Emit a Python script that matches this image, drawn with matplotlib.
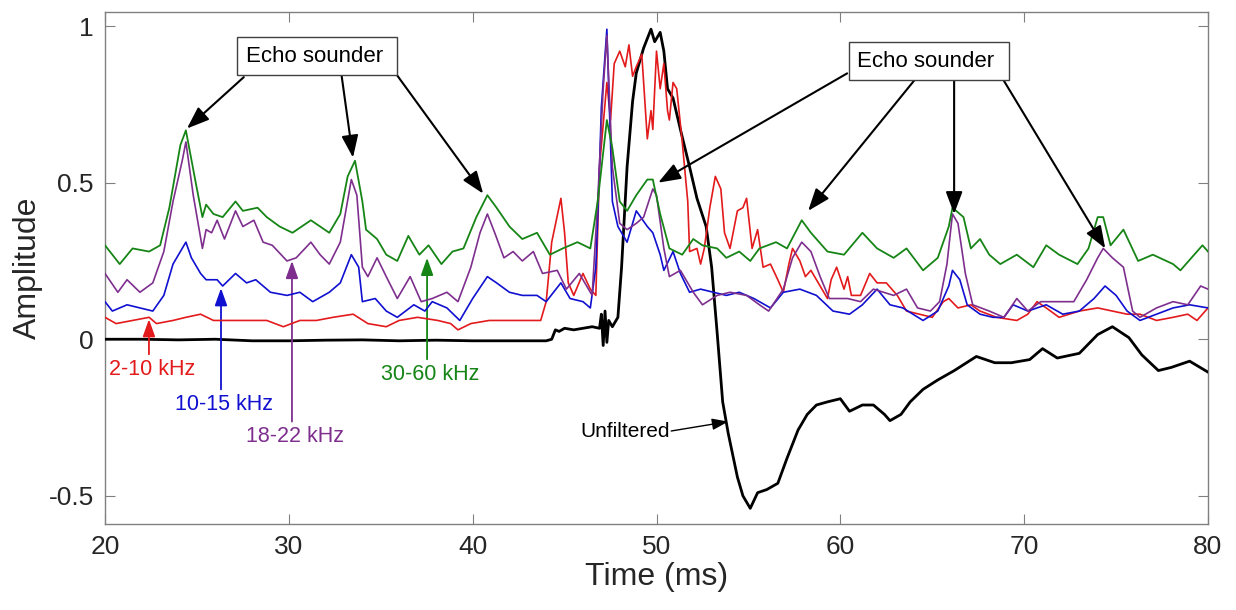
import matplotlib
matplotlib.use("Agg")
import matplotlib.pyplot as plt
import numpy as np

plt.rcParams['font.family'] = ['Liberation Sans', 'DejaVu Sans']

# ---- data (time in ms, normalised amplitude) ----
t_unf = [20, 22, 24, 26, 28, 30, 32, 34, 36, 38, 40, 42, 44, 44.3, 44.5, 44.7, 45.0, 45.5, 46.0,
         46.5, 46.9, 47.0, 47.1, 47.2, 47.3, 47.4, 47.6, 47.9, 48.1, 48.4, 48.7, 48.9, 49.3, 49.7,
         49.9, 50.2, 50.4, 50.6, 50.9, 51.3, 51.8, 52.2, 52.7, 53.0, 53.3, 53.6, 53.9, 54.4, 54.7,
         55.1, 55.5, 56.0, 56.6, 57.1, 57.7, 58.2, 58.7, 59.3, 60.0, 60.5, 61.2, 61.8, 62.4, 62.7,
         63.3, 63.8, 64.5, 65.3, 66.2, 67.4, 68.4, 69.3, 70.3, 71.0, 71.8, 73.0, 74.0, 74.8, 75.7,
         76.4, 77.3, 78.0, 79.0, 80.0]
unfiltered = [0.0, 0.0, -0.002, 0.0, -0.005, -0.005, -0.003, -0.002, -0.005, -0.003, -0.005, -0.005,
              -0.005, 0.0, 0.03, 0.025, 0.035, 0.03, 0.035, 0.04, 0.035, 0.08, -0.02, 0.09, -0.01,
              0.06, 0.04, 0.07, 0.23, 0.55, 0.76, 0.85, 0.93, 0.99, 0.95, 0.98, 0.92, 0.80, 0.77,
              0.67, 0.55, 0.45, 0.36, 0.23, 0.02, -0.20, -0.30, -0.44, -0.50, -0.54, -0.49, -0.48,
              -0.46, -0.38, -0.29, -0.24, -0.21, -0.20, -0.19, -0.23, -0.21, -0.21, -0.24, -0.26,
              -0.24, -0.20, -0.16, -0.13, -0.10, -0.055, -0.075, -0.075, -0.065, -0.03, -0.06,
              -0.045, 0.015, 0.04, 0.005, -0.05, -0.10, -0.09, -0.07, -0.105]

t_red = [20.0, 20.6, 21.5, 22.4, 22.8, 23.7, 24.4, 25.2, 25.9, 27.0, 27.9, 28.8, 29.7, 30.6, 31.5,
         32.4, 33.5, 34.3, 35.3, 36.0, 37.0, 38.1, 38.8, 39.2, 39.9, 40.9, 42.2, 43.0, 43.7, 44.0,
         44.3, 44.8, 45.0, 45.2, 45.5, 46.0, 46.4, 46.7, 46.9, 47.3, 47.5, 47.7, 48.0, 48.3, 48.5,
         48.7, 48.9, 49.2, 49.5, 49.7, 49.8, 50.0, 50.2, 50.4, 50.6, 50.7, 50.9, 51.1, 51.4, 51.7,
         51.8, 52.2, 52.4, 52.6, 52.9, 53.2, 53.5, 53.7, 54.0, 54.4, 54.7, 54.9, 55.2, 55.5, 55.8,
         56.2, 56.6, 56.9, 57.2, 57.4, 57.8, 58.1, 58.4, 58.7, 59.3, 59.5, 59.8, 60.2, 60.4, 60.6,
         61.1, 61.6, 62.0, 62.5, 63.1, 63.6, 64.3, 65.0, 65.6, 65.9, 66.4, 67.1, 67.6, 68.5, 69.6,
         70.2, 70.7, 71.2, 71.9, 73.0, 74.0, 74.8, 75.6, 76.3, 77.2, 78.1, 78.9, 79.4, 80.0]
band_2_10 = [0.07, 0.05, 0.06, 0.07, 0.05, 0.06, 0.07, 0.08, 0.06, 0.06, 0.06, 0.06, 0.04, 0.06, 0.06,
             0.07, 0.08, 0.05, 0.04, 0.06, 0.07, 0.06, 0.05, 0.03, 0.05, 0.06, 0.06, 0.06, 0.06, 0.12,
             0.31, 0.45, 0.34, 0.18, 0.14, 0.21, 0.16, 0.14, 0.55, 0.82, 0.70, 0.88, 0.92, 0.87, 0.94,
             0.84, 0.87, 0.91, 0.64, 0.73, 0.67, 0.92, 0.80, 0.88, 0.73, 0.70, 0.82, 0.80, 0.63, 0.44,
             0.28, 0.29, 0.24, 0.29, 0.42, 0.52, 0.48, 0.34, 0.29, 0.41, 0.42, 0.45, 0.29, 0.35, 0.23,
             0.24, 0.19, 0.15, 0.24, 0.29, 0.25, 0.20, 0.22, 0.19, 0.13, 0.19, 0.23, 0.16, 0.20, 0.14,
             0.14, 0.21, 0.18, 0.18, 0.14, 0.09, 0.08, 0.07, 0.12, 0.13, 0.10, 0.11, 0.09, 0.07, 0.06,
             0.08, 0.12, 0.10, 0.07, 0.09, 0.10, 0.09, 0.08, 0.08, 0.06, 0.07, 0.08, 0.06, 0.10]

t_blue = [20.0, 20.4, 21.2, 21.9, 22.6, 23.2, 23.7, 24.4, 24.7, 25.2, 25.5, 26.1, 26.4, 27.1, 27.7,
          28.2, 29.0, 29.9, 30.6, 31.3, 32.2, 32.8, 33.4, 33.8, 34.0, 34.7, 35.3, 35.9, 36.8, 37.4,
          37.8, 38.6, 39.3, 40.0, 40.8, 41.3, 42.0, 42.7, 43.5, 44.0, 44.8, 45.3, 46.0, 46.4, 46.7,
          46.9, 47.0, 47.3, 47.6, 47.9, 48.1, 48.4, 48.9, 49.5, 49.8, 50.2, 50.4, 50.9, 51.3, 51.8,
          52.4, 53.1, 53.8, 54.5, 55.3, 56.2, 56.9, 57.8, 58.7, 59.6, 60.5, 61.2, 62.0, 62.7, 63.4,
          64.5, 65.3, 65.9, 66.1, 66.5, 66.9, 67.6, 68.3, 68.9, 69.4, 70.2, 71.2, 72.1, 73.0, 73.8,
          74.4, 75.0, 75.6, 76.3, 77.2, 78.1, 79.0, 80.0]
band_10_15 = [0.12, 0.09, 0.11, 0.10, 0.09, 0.14, 0.24, 0.31, 0.26, 0.21, 0.19, 0.19, 0.17, 0.21, 0.18,
              0.19, 0.15, 0.14, 0.15, 0.12, 0.15, 0.18, 0.27, 0.23, 0.12, 0.13, 0.09, 0.07, 0.11, 0.09,
              0.12, 0.10, 0.06, 0.13, 0.20, 0.18, 0.15, 0.14, 0.14, 0.12, 0.18, 0.13, 0.12, 0.10, 0.23,
              0.55, 0.74, 0.99, 0.44, 0.36, 0.34, 0.31, 0.41, 0.36, 0.34, 0.27, 0.22, 0.28, 0.21, 0.15,
              0.16, 0.15, 0.14, 0.15, 0.13, 0.10, 0.15, 0.16, 0.14, 0.09, 0.08, 0.11, 0.16, 0.11, 0.10,
              0.06, 0.09, 0.17, 0.22, 0.19, 0.11, 0.08, 0.07, 0.07, 0.11, 0.09, 0.11, 0.08, 0.09, 0.13,
              0.17, 0.14, 0.09, 0.06, 0.08, 0.10, 0.11, 0.10]

t_purple = [20.0, 20.7, 21.2, 21.9, 22.6, 23.2, 23.7, 24.2, 24.4, 24.8, 25.3, 25.5, 25.8, 26.1, 26.5,
            27.1, 27.5, 28.1, 28.6, 29.1, 29.9, 30.4, 31.2, 31.7, 32.2, 32.8, 33.1, 33.4, 33.7, 34.0,
            34.3, 34.8, 35.3, 35.9, 36.6, 37.2, 37.8, 38.6, 39.2, 39.9, 40.4, 40.8, 41.2, 41.7, 42.2,
            42.7, 43.3, 43.8, 44.6, 45.1, 45.8, 46.5, 46.8, 47.1, 47.3, 47.6, 48.0, 48.4, 48.9, 49.3,
            49.8, 50.0, 50.4, 50.7, 51.3, 52.0, 52.5, 53.3, 54.0, 54.9, 55.6, 56.1, 56.9, 57.4, 57.9,
            58.4, 58.9, 59.4, 60.4, 61.1, 61.8, 62.9, 63.6, 64.2, 64.9, 65.4, 65.8, 66.1, 66.4, 66.8,
            67.2, 68.1, 68.9, 69.6, 70.2, 70.9, 71.8, 72.7, 73.4, 74.0, 74.3, 74.8, 75.4, 75.9, 76.3,
            77.2, 78.1, 78.9, 79.6, 80.0]
band_18_22 = [0.21, 0.15, 0.19, 0.15, 0.18, 0.28, 0.44, 0.57, 0.63, 0.46, 0.29, 0.35, 0.34, 0.38, 0.32,
              0.41, 0.36, 0.38, 0.31, 0.30, 0.25, 0.26, 0.31, 0.27, 0.24, 0.31, 0.41, 0.51, 0.46, 0.23,
              0.20, 0.26, 0.20, 0.13, 0.20, 0.12, 0.13, 0.15, 0.12, 0.23, 0.34, 0.40, 0.34, 0.26, 0.28,
              0.25, 0.28, 0.21, 0.22, 0.16, 0.21, 0.14, 0.44, 0.80, 0.97, 0.55, 0.37, 0.35, 0.37, 0.39,
              0.48, 0.46, 0.29, 0.20, 0.22, 0.15, 0.11, 0.14, 0.15, 0.14, 0.11, 0.09, 0.16, 0.26, 0.31,
              0.28, 0.20, 0.13, 0.13, 0.12, 0.16, 0.14, 0.16, 0.10, 0.09, 0.12, 0.24, 0.40, 0.37, 0.21,
              0.11, 0.09, 0.07, 0.13, 0.09, 0.12, 0.12, 0.12, 0.19, 0.26, 0.29, 0.26, 0.23, 0.09, 0.07,
              0.10, 0.12, 0.11, 0.17, 0.16]

t_green = [20.0, 20.8, 21.5, 22.4, 23.0, 23.5, 24.1, 24.4, 25.0, 25.3, 25.5, 25.9, 26.4, 27.1, 27.5,
           28.3, 28.8, 29.5, 30.2, 31.2, 31.7, 32.2, 32.8, 33.2, 33.6, 34.0, 34.2, 34.8, 35.3, 35.9,
           36.5, 37.1, 37.6, 38.3, 38.9, 39.5, 40.2, 40.8, 41.3, 42.0, 42.7, 43.5, 44.2, 44.9, 45.7,
           46.4, 46.8, 47.3, 47.6, 48.0, 48.4, 48.9, 49.5, 49.8, 50.2, 50.7, 51.4, 52.0, 52.5, 53.3,
           53.8, 54.5, 55.1, 55.6, 56.5, 57.1, 57.9, 58.4, 59.3, 60.2, 61.2, 62.0, 62.9, 63.6, 64.5,
           65.3, 65.9, 66.1, 66.7, 67.1, 67.6, 68.1, 68.7, 69.6, 70.5, 71.2, 71.9, 72.9, 73.5, 74.0,
           74.3, 74.7, 75.4, 76.2, 77.0, 78.1, 78.5, 79.7, 80.0]
band_30_60 = [0.30, 0.24, 0.29, 0.28, 0.30, 0.42, 0.62, 0.667, 0.48, 0.39, 0.43, 0.40, 0.39, 0.44, 0.41,
              0.42, 0.39, 0.36, 0.34, 0.38, 0.36, 0.34, 0.40, 0.52, 0.57, 0.44, 0.35, 0.32, 0.27, 0.25,
              0.33, 0.27, 0.30, 0.24, 0.28, 0.29, 0.39, 0.46, 0.42, 0.36, 0.32, 0.34, 0.27, 0.29, 0.31,
              0.29, 0.44, 0.70, 0.61, 0.44, 0.41, 0.46, 0.51, 0.51, 0.40, 0.29, 0.27, 0.32, 0.30, 0.29,
              0.26, 0.28, 0.25, 0.29, 0.31, 0.29, 0.38, 0.34, 0.28, 0.27, 0.34, 0.29, 0.26, 0.29, 0.22,
              0.26, 0.36, 0.42, 0.39, 0.29, 0.32, 0.27, 0.24, 0.27, 0.23, 0.30, 0.27, 0.24, 0.29, 0.39,
              0.39, 0.30, 0.35, 0.25, 0.27, 0.24, 0.22, 0.30, 0.28]

# echo sounder arrow tips (time, amplitude)
echo_left = [(24.46, 0.673), (33.49, 0.58), (40.57, 0.465)]
echo_right = [(50.09, 0.50), (58.25, 0.41), (66.19, 0.40), (74.41, 0.29)]

C_RED = '#e31a1c'
C_BLUE = '#1010d0'
C_PURPLE = '#7e2f8e'
C_GREEN = '#168516'

fig = plt.figure(figsize=(12.36, 6.10), dpi=100)
ax = fig.add_axes([105 / 1236, 1 - 524 / 610, (1208 - 105) / 1236, (524 - 12) / 610])

ax.plot(t_unf, unfiltered, color='black', lw=2.0, zorder=3)
ax.plot(t_red, band_2_10, color=C_RED, lw=1.2, zorder=4)
ax.plot(t_blue, band_10_15, color=C_BLUE, lw=1.2, zorder=5)
ax.plot(t_purple, band_18_22, color=C_PURPLE, lw=1.2, zorder=6)
ax.plot(t_green, band_30_60, color=C_GREEN, lw=1.3, zorder=7)

ax.set_xlim(20, 80)
ax.set_ylim(-0.59, 1.045)
ax.set_xticks([20, 30, 40, 50, 60, 70, 80])
ax.set_yticks([-0.5, 0, 0.5, 1])
ax.set_yticklabels(['-0.5', '0', '0.5', '1'])
ax.tick_params(direction='in', length=7, width=0.8, top=True, right=True,
               colors='#808080', labelcolor='#262626', labelsize=19, pad=8)
for s in ax.spines.values():
    s.set_color('#808080')
    s.set_linewidth(1.0)
ax.set_xlabel('Time (ms)', fontsize=23, color='#262626', labelpad=2)
ax.set_ylabel('Amplitude', fontsize=23, color='#262626', labelpad=4)

# ---- Echo sounder call-outs ----
head = dict(arrowstyle='-|>,head_length=0.8,head_width=0.3', color='black', lw=1.5,
            mutation_scale=17, shrinkA=0, shrinkB=0)
ax.text(31.55, 0.904, 'Echo sounder ', fontsize=16, ha='center', va='center', zorder=10,
        bbox=dict(boxstyle='square,pad=0.38', facecolor='white', edgecolor='#404040', lw=1.0))
for (x0, y0), tip in zip([(27.55, 0.837), (32.87, 0.842), (35.9, 0.842)], echo_left):
    ax.annotate('', xy=tip, xytext=(x0, y0), arrowprops=head, zorder=9)

ax.text(64.8, 0.888, 'Echo sounder ', fontsize=16, ha='center', va='center', zorder=10,
        bbox=dict(boxstyle='square,pad=0.38', facecolor='white', edgecolor='#404040', lw=1.0))
for (x0, y0), tip in zip([(60.37, 0.849), (64.07, 0.83), (66.19, 0.83), (68.85, 0.83)], echo_right):
    ax.annotate('', xy=tip, xytext=(x0, y0), arrowprops=head, zorder=9)

# ---- band labels ----
def band_label(text, xy_text, tip, color):
    small = dict(arrowstyle='-|>,head_length=0.7,head_width=0.25', color=color, lw=1.3,
                 mutation_scale=15, shrinkA=0, shrinkB=0)
    ax.text(xy_text[0], xy_text[1], text, color=color, fontsize=15.5, ha='center', va='center')
    ax.annotate('', xy=tip, xytext=(tip[0], xy_text[1] + 0.048), arrowprops=small)

band_label('2-10 kHz', (22.56, -0.096), (22.39, 0.064), C_RED)
band_label('10-15 kHz', (26.47, -0.208), (26.31, 0.163), C_BLUE)
band_label('18-22 kHz', (30.34, -0.311), (30.17, 0.25), C_PURPLE)
band_label('30-60 kHz', (37.68, -0.112), (37.52, 0.26), C_GREEN)

ax.text(50.74, -0.295, 'Unfiltered', fontsize=15, ha='right', va='center', color='black')
ax.annotate('', xy=(53.9, -0.263), xytext=(50.8, -0.293),
            arrowprops=dict(arrowstyle='-|>,head_length=0.7,head_width=0.25', color='black', lw=1.0,
                            mutation_scale=14, shrinkA=0, shrinkB=0))

fig.savefig('out.png', dpi=100, facecolor='white')
